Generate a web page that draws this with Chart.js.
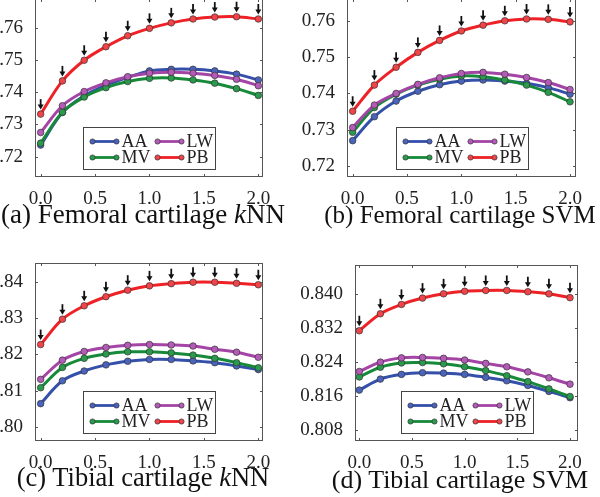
<!DOCTYPE html>
<html>
<head>
<meta charset="utf-8">
<script src="https://cdn.jsdelivr.net/npm/chart.js@4.4.1/dist/chart.umd.min.js"></script>
<style>
  body { margin: 0; width: 600px; height: 497px; overflow: hidden; background: #fff; position: relative; }
  .panel { position: absolute; }
  .caption { position: absolute; width: 340px; text-align: center; font-family: 'Liberation Serif', serif; font-size: 27px; line-height: 30px; color: #111; white-space: nowrap; }
</style>
</head>
<body>
<div class="panel" id="pa"><canvas id="cA"></canvas></div>
<div class="panel" id="pb"><canvas id="cB"></canvas></div>
<div class="panel" id="pc"><canvas id="cC"></canvas></div>
<div class="panel" id="pd"><canvas id="cD"></canvas></div>
<div class="caption" id="capA">(a) Femoral cartilage <i>k</i>NN</div>
<div class="caption" id="capB">(b) Femoral cartilage SVM</div>
<div class="caption" id="capC">(c) Tibial cartilage <i>k</i>NN</div>
<div class="caption" id="capD">(d) Tibial cartilage SVM</div>
<script>
// shared x values and tick labels
const xValues = [0, 0.2, 0.4, 0.6, 0.8, 1.0, 1.2, 1.4, 1.6, 1.8, 2.0];
const xTicks = [0, 0.5, 1.0, 1.5, 2.0];
const seriesNames = ['AA', 'MV', 'LW', 'PB'];

// (a) femoral cartilage kNN
const femKnnAA = [0.7236, 0.7337, 0.7389, 0.7422, 0.7446, 0.7466, 0.7471, 0.7471, 0.7466, 0.7456, 0.7438];
const femKnnMV = [0.7242, 0.7338, 0.7385, 0.7414, 0.7433, 0.7443, 0.7444, 0.7438, 0.7428, 0.7411, 0.7390];
const femKnnLW = [0.7275, 0.7358, 0.7402, 0.7429, 0.7448, 0.7459, 0.7462, 0.7459, 0.7452, 0.7440, 0.7420];
const femKnnPB = [0.7332, 0.7435, 0.7499, 0.7541, 0.7575, 0.7598, 0.7615, 0.7627, 0.7633, 0.7634, 0.7627];
const femKnnTicks = [0.72, 0.73, 0.74, 0.75, 0.76];

// (b) femoral cartilage SVM
const femSvmAA = [0.7270, 0.7336, 0.7379, 0.7406, 0.7424, 0.7434, 0.7437, 0.7434, 0.7428, 0.7416, 0.7398];
const femSvmMV = [0.7293, 0.7361, 0.7398, 0.7423, 0.7439, 0.7448, 0.7446, 0.7437, 0.7423, 0.7403, 0.7377];
const femSvmLW = [0.7306, 0.7368, 0.7400, 0.7425, 0.7443, 0.7455, 0.7458, 0.7453, 0.7444, 0.7430, 0.7411];
const femSvmPB = [0.7351, 0.7423, 0.7472, 0.7513, 0.7546, 0.7572, 0.7588, 0.7600, 0.7605, 0.7604, 0.7597];
const femSvmTicks = [0.72, 0.73, 0.74, 0.75, 0.76];

// (c) tibial cartilage kNN
const tibKnnAA = [0.8064, 0.8127, 0.8154, 0.8171, 0.8181, 0.8186, 0.8186, 0.8182, 0.8177, 0.8168, 0.8158];
const tibKnnMV = [0.8108, 0.8164, 0.8189, 0.8201, 0.8207, 0.8207, 0.8204, 0.8198, 0.8189, 0.8177, 0.8163];
const tibKnnLW = [0.8131, 0.8184, 0.8208, 0.8219, 0.8225, 0.8227, 0.8226, 0.8223, 0.8214, 0.8206, 0.8192];
const tibKnnPB = [0.8227, 0.8297, 0.8334, 0.8359, 0.8377, 0.8389, 0.8395, 0.8399, 0.8399, 0.8396, 0.8392];
const tibKnnTicks = [0.80, 0.81, 0.82, 0.83, 0.84];

// (d) tibial cartilage SVM
const tibSvmAA = [0.8174, 0.8200, 0.8211, 0.8215, 0.8214, 0.8211, 0.8204, 0.8196, 0.8185, 0.8171, 0.8156];
const tibSvmMV = [0.8205, 0.8228, 0.8238, 0.8239, 0.8236, 0.8229, 0.8220, 0.8208, 0.8194, 0.8177, 0.8159];
const tibSvmLW = [0.8218, 0.8240, 0.8250, 0.8251, 0.8249, 0.8245, 0.8237, 0.8229, 0.8217, 0.8203, 0.8188];
const tibSvmPB = [0.8314, 0.8354, 0.8376, 0.8391, 0.8401, 0.8407, 0.8409, 0.8409, 0.8406, 0.8401, 0.8392];
const tibSvmTicks = [0.808, 0.816, 0.824, 0.832, 0.840];

const colors = {
    AA: { line: '#3450ab', fill: '#4a64bd' },
    MV: { line: '#178a3a', fill: '#2a9a4c' },
    LW: { line: '#a444a6', fill: '#b55ab8' },
    PB: { line: '#ee2226', fill: '#f04448' }
};
const drawOrder = { PB: 0, LW: 1, MV: 2, AA: 3 };

Chart.defaults.font.family = "'Liberation Serif', serif";
Chart.defaults.font.size = 19;
Chart.defaults.color = '#222';

// frame, inward ticks, arrows over PB and the in-plot legend
const framePlugin = {
    id: 'frame',
    afterDatasetsDraw(chart) {
        const { ctx, chartArea: a, scales: { x, y } } = chart;
        ctx.save();

        // arrows above every PB point
        const pbIndex = chart.data.datasets.findIndex(d => d.label === 'PB');
        ctx.fillStyle = '#111';
        ctx.strokeStyle = '#111';
        ctx.lineWidth = 1.8;
        chart.getDatasetMeta(pbIndex).data.forEach(p => {
            ctx.beginPath();
            ctx.moveTo(p.x, p.y - 15);
            ctx.lineTo(p.x, p.y - 8);
            ctx.stroke();
            ctx.beginPath();
            ctx.moveTo(p.x - 3, p.y - 9.5);
            ctx.lineTo(p.x + 3, p.y - 9.5);
            ctx.lineTo(p.x, p.y - 4.5);
            ctx.closePath();
            ctx.fill();
        });

        // box
        ctx.strokeStyle = '#555';
        ctx.lineWidth = 1;
        ctx.strokeRect(a.left + 0.5, a.top + 0.5, a.width - 1, a.height - 1);
        ctx.beginPath();
        y.ticks.forEach(t => {
            const py = Math.round(y.getPixelForValue(t.value)) + 0.5;
            ctx.moveTo(a.left, py); ctx.lineTo(a.left + 3, py);
            ctx.moveTo(a.right, py); ctx.lineTo(a.right - 3, py);
        });
        x.ticks.forEach(t => {
            const px = Math.round(x.getPixelForValue(t.value)) + 0.5;
            ctx.moveTo(px, a.bottom); ctx.lineTo(px, a.bottom - 3);
            ctx.moveTo(px, a.top); ctx.lineTo(px, a.top + 3);
        });
        ctx.stroke();

        // legend box
        const bw = 132, bh = 42;
        const bx = Math.round((a.left + a.right) / 2 - bw / 2) + 0.5;
        const by = Math.round(a.bottom - 8 - bh) + 0.5;
        ctx.fillStyle = '#fff';
        ctx.fillRect(bx, by, bw, bh);
        ctx.strokeStyle = '#444';
        ctx.strokeRect(bx, by, bw, bh);
        const slots = { AA: [0, 0], LW: [1, 0], MV: [0, 1], PB: [1, 1] };
        ctx.font = "18px 'Liberation Serif', serif";
        ctx.textBaseline = 'middle';
        chart.data.datasets.forEach(ds => {
            const [col, row] = slots[ds.label];
            const lx = bx + 9 + col * 65;
            const ly = by + 14 + row * 16;
            ctx.strokeStyle = ds.borderColor;
            ctx.lineWidth = 2.8;
            ctx.beginPath();
            ctx.moveTo(lx, ly); ctx.lineTo(lx + 24, ly);
            ctx.stroke();
            ctx.fillStyle = ds.pointBackgroundColor;
            ctx.strokeStyle = '#333';
            ctx.lineWidth = 0.7;
            [lx, lx + 24].forEach(cx => {
                ctx.beginPath();
                ctx.arc(cx, ly, 2.6, 0, Math.PI * 2);
                ctx.fill();
                ctx.stroke();
            });
            ctx.fillStyle = '#222';
            ctx.fillText(ds.label, lx + 29, ly + 1);
        });
        ctx.restore();
    }
};

function makePanel(canvasId, holderId, area, series, yTicks, xRange, yRange, decimals) {
    const padL = 70, padT = 20, padR = 20, padB = 60;
    const w = area.right - area.left + padL + padR;
    const h = area.bottom - area.top + padT + padB;
    const holder = document.getElementById(holderId);
    holder.style.left = (area.left - padL) + 'px';
    holder.style.top = (area.top - padT) + 'px';
    const canvas = document.getElementById(canvasId);
    canvas.width = w;
    canvas.height = h;

    const datasets = seriesNames.map((name, i) => ({
        label: name,
        data: xValues.map((xv, j) => ({ x: xv, y: series[i][j] })),
        borderColor: colors[name].line,
        backgroundColor: colors[name].line,
        pointBackgroundColor: colors[name].fill,
        pointBorderColor: '#333',
        pointBorderWidth: 0.7,
        pointRadius: 3.3,
        borderWidth: 3,
        tension: 0.35,
        order: drawOrder[name]
    }));

    return new Chart(canvas, {
        type: 'line',
        data: { datasets },
        plugins: [framePlugin],
        options: {
            responsive: false,
            animation: false,
            devicePixelRatio: 1,
            layout: { padding: { left: 0, top: padT, right: padR, bottom: 0 } },
            plugins: { legend: { display: false }, tooltip: { enabled: false } },
            scales: {
                x: {
                    type: 'linear',
                    min: xRange[0],
                    max: xRange[1],
                    grid: { display: false },
                    border: { display: false },
                    afterFit: s => { s.height = padB; },
                    afterBuildTicks: s => { s.ticks = xTicks.map(v => ({ value: v })); },
                    ticks: { padding: 3, maxRotation: 0, callback: v => v.toFixed(1) }
                },
                y: {
                    min: yRange[0],
                    max: yRange[1],
                    grid: { display: false },
                    border: { display: false },
                    afterFit: s => { s.width = padL; },
                    afterBuildTicks: s => { s.ticks = yTicks.map(v => ({ value: v })); },
                    ticks: { padding: 4, callback: v => v.toFixed(decimals) }
                }
            }
        }
    });
}

makePanel('cA', 'pa', { left: 35, top: -1, right: 263, bottom: 177 },
    [femKnnAA, femKnnMV, femKnnLW, femKnnPB], femKnnTicks, [-0.052, 2.043], [0.7137, 0.7689], 2);
makePanel('cB', 'pb', { left: 347, top: -1, right: 576, bottom: 177 },
    [femSvmAA, femSvmMV, femSvmLW, femSvmPB], femSvmTicks, [-0.052, 2.055], [0.7170, 0.7660], 2);
makePanel('cC', 'pc', { left: 35, top: 263, right: 263, bottom: 441 },
    [tibKnnAA, tibKnnMV, tibKnnLW, tibKnnPB], tibKnnTicks, [-0.052, 2.043], [0.7961, 0.8452], 2);
makePanel('cD', 'pd', { left: 355, top: 265, right: 578, bottom: 441 },
    [tibSvmAA, tibSvmMV, tibSvmLW, tibSvmPB], tibSvmTicks, [-0.041, 2.076], [0.8054, 0.8469], 3);

function placeCaption(id, cx, top, size) {
    const el = document.getElementById(id);
    el.style.left = (cx - 170) + 'px';
    el.style.top = top + 'px';
    el.style.fontSize = size + 'px';
}
placeCaption('capA', 143, 199, 27);
placeCaption('capB', 460, 200, 25);
placeCaption('capC', 143, 462, 26.5);
placeCaption('capD', 460, 465, 26);
</script>
</body>
</html>
